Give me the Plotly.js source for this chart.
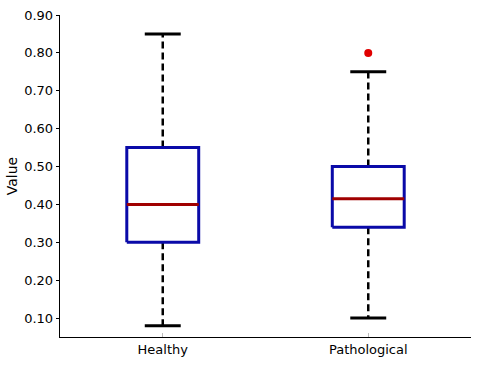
<!DOCTYPE html>
<html>
<head>
<meta charset="utf-8">
<script src="https://cdn.plot.ly/plotly-3.0.1.min.js"></script>
<style>
  html, body { margin: 0; padding: 0; background: #fff; }
  #chart { width: 480px; height: 367px; }
</style>
</head>
<body>
<div id="chart"></div>
<script>
// box plot summary per group
var categories = ['Healthy', 'Pathological'];
var q1 = [0.30, 0.34];
var medians = [0.40, 0.415];
var q3 = [0.55, 0.50];
var lowerWhisker = [0.08, 0.10];
var upperWhisker = [0.85, 0.75];
var outliers = [[], [0.80]];
var yTicks = [0.10, 0.20, 0.30, 0.40, 0.50, 0.60, 0.70, 0.80, 0.90];

var boxHalf = 0.175;
var capHalf = 0.0875;
var traces = [];

categories.forEach(function(c, i){
  var p = i + 1;
  // whiskers (dashed)
  traces.push({
    x: [p, p, null, p, p],
    y: [q3[i], upperWhisker[i], null, q1[i], lowerWhisker[i]],
    mode: 'lines', type: 'scatter', hoverinfo: 'skip',
    line: { color: '#000', width: 2.5, dash: '7px,4px' }
  });
  // caps
  traces.push({
    x: [p - capHalf, p + capHalf, null, p - capHalf, p + capHalf],
    y: [upperWhisker[i], upperWhisker[i], null, lowerWhisker[i], lowerWhisker[i]],
    mode: 'lines', type: 'scatter', hoverinfo: 'skip',
    line: { color: '#000', width: 3 }
  });
  // box
  traces.push({
    x: [p - boxHalf, p + boxHalf, p + boxHalf, p - boxHalf, p - boxHalf],
    y: [q1[i], q1[i], q3[i], q3[i], q1[i]],
    mode: 'lines', type: 'scatter', fill: 'toself', fillcolor: '#fff',
    line: { color: '#0a0aa8', width: 3 }
  });
  // median
  traces.push({
    x: [p - boxHalf, p + boxHalf],
    y: [medians[i], medians[i]],
    mode: 'lines', type: 'scatter',
    line: { color: '#a00000', width: 3 }
  });
  if (outliers[i].length) {
    traces.push({
      x: outliers[i].map(function(){ return p; }),
      y: outliers[i],
      mode: 'markers', type: 'scatter',
      marker: { color: '#e00000', size: 8 }
    });
  }
});

var layout = {
  width: 480, height: 367,
  margin: { l: 60, r: 9, t: 15, b: 30 },
  showlegend: false,
  paper_bgcolor: '#fff', plot_bgcolor: '#fff',
  font: { family: 'DejaVu Sans, sans-serif', size: 13, color: '#000' },
  xaxis: {
    range: [0.5, 2.5],
    tickvals: categories.map(function(c, i){ return i + 1; }),
    ticktext: categories,
    showgrid: false, zeroline: false,
    showline: true, linecolor: '#000', linewidth: 1.3,
    ticks: 'inside', ticklen: 4, tickcolor: '#bbb',
    tickfont: { size: 13 }
  },
  yaxis: {
    range: [0.05, 0.90],
    tickvals: yTicks,
    tickformat: '.2f',
    showgrid: false, zeroline: false,
    showline: true, linecolor: '#000', linewidth: 1.3,
    ticks: 'outside', ticklen: 3, tickcolor: '#000',
    tickfont: { size: 13 },
    title: { text: 'Value', font: { size: 14 }, standoff: 3 }
  }
};

Plotly.newPlot('chart', traces, layout, { displayModeBar: false, staticPlot: true });
</script>
</body>
</html>
